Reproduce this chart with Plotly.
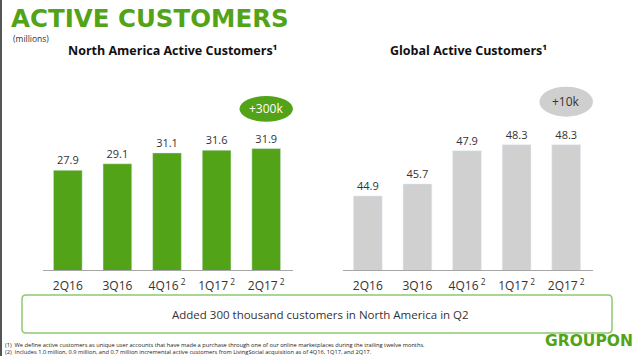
import plotly.graph_objects as go

categories = ["2Q16", "3Q16", "4Q16", "1Q17", "2Q17"]
tick_labels = ["2Q16", "3Q16", "4Q16<sup> 2</sup>", "1Q17<sup> 2</sup>", "2Q17<sup> 2</sup>"]
na_values = [27.9, 29.1, 31.1, 31.6, 31.9]
global_values = [44.9, 45.7, 47.9, 48.3, 48.3]
na_change = "+300k"
global_change = "+10k"

GREEN = "#53a318"
GRAY = "#d0d0d0"
TXT = "#333333"

fig = go.Figure()
fig.add_trace(go.Bar(x=categories, y=na_values, marker_color=GREEN,
                     text=[f"{v:.1f}" for v in na_values], textposition="outside",
                     textfont=dict(family="Open Sans", size=11, color=TXT),
                     cliponaxis=False, xaxis="x", yaxis="y", hoverinfo="skip"))
fig.add_trace(go.Bar(x=categories, y=global_values, marker_color=GRAY,
                     text=[f"{v:.1f}" for v in global_values], textposition="outside",
                     textfont=dict(family="Open Sans", size=11, color=TXT),
                     cliponaxis=False, xaxis="x2", yaxis="y2", hoverinfo="skip"))

ydom = [(356 - 270) / 356, (356 - 80) / 356]
xcommon = dict(type="category", categoryorder="array", categoryarray=categories,
               tickvals=categories, ticktext=tick_labels, showline=True, linecolor="#a6a6a6",
               linewidth=1, ticks="", showgrid=False, zeroline=False, ticklabelstandoff=5,
               tickfont=dict(family="Open Sans", size=12, color=TXT), fixedrange=True)
fig.update_layout(
    width=640, height=356, margin=dict(l=0, r=0, t=0, b=0),
    paper_bgcolor="white", plot_bgcolor="white", showlegend=False, bargap=0.42,
    xaxis=dict(domain=[43 / 640, 293 / 640], anchor="y", **xcommon),
    yaxis=dict(domain=ydom, range=[9.5, 44.55], visible=False, anchor="x", fixedrange=True),
    xaxis2=dict(domain=[343 / 640, 593 / 640], anchor="y2", **xcommon),
    yaxis2=dict(domain=ydom, range=[40, 52.58], visible=False, anchor="x2", fixedrange=True),
)

shapes = []
# left edge dark line
shapes.append(dict(type="rect", xref="paper", yref="paper", x0=0, x1=2 / 640, y0=0, y1=1,
                   fillcolor="#555555", line_width=0))
# ovals
shapes.append(dict(type="circle", xref="x", yref="paper", x0=3.46, x1=4.54,
                   y0=(356 - 121.7) / 356, y1=(356 - 96) / 356, fillcolor=GREEN, line_width=0))
shapes.append(dict(type="circle", xref="x2", yref="paper", x0=3.46, x1=4.54,
                   y0=(356 - 116.7) / 356, y1=(356 - 86.7) / 356, fillcolor="#cfcfcf", line_width=0))
# rounded box
x0, x1 = 22 / 640, 612 / 640
y0, y1 = (356 - 333) / 356, (356 - 295) / 356
rx, ry = 4 / 640, 4 / 356
path = (f"M {x0+rx},{y1} L {x1-rx},{y1} Q {x1},{y1} {x1},{y1-ry} L {x1},{y0+ry} "
        f"Q {x1},{y0} {x1-rx},{y0} L {x0+rx},{y0} Q {x0},{y0} {x0},{y0+ry} "
        f"L {x0},{y1-ry} Q {x0},{y1} {x0+rx},{y1} Z")
shapes.append(dict(type="path", xref="paper", yref="paper", path=path,
                   line=dict(color="#8dc971", width=1.5), fillcolor="rgba(0,0,0,0)"))
fig.update_layout(shapes=shapes)

def py(y):
    return (356 - y) / 356

anns = [
    dict(text="ACTIVE CUSTOMERS", x=9 / 640, y=py(18), xanchor="left", yanchor="middle",
         font=dict(family="DejaVu Sans", size=24.5, color=GREEN, weight=800)),
    dict(text="(millions)", x=11 / 640, y=py(38), xanchor="left", yanchor="middle",
         font=dict(family="Open Sans", size=8.5, color=TXT)),
    dict(text="<b>North America Active Customers¹</b>", x=172 / 640, y=py(50), xanchor="center",
         yanchor="middle", font=dict(family="Open Sans", size=12.5, color="#111111")),
    dict(text="<b>Global Active Customers¹</b>", x=468 / 640, y=py(50), xanchor="center",
         yanchor="middle", font=dict(family="Open Sans", size=12.5, color="#111111")),
    dict(text=na_change, xref="x", x=categories[4], y=py(108.5), yanchor="middle",
         font=dict(family="Open Sans", size=12, color="white")),
    dict(text=global_change, xref="x2", x=categories[4], y=py(101.5), yanchor="middle",
         font=dict(family="Open Sans", size=12, color=TXT)),
    dict(text="Added 300 thousand customers in North America in Q2", x=320 / 640, y=py(314),
         xanchor="center", yanchor="middle",
         font=dict(family="Open Sans", size=11.5, color=TXT)),
    dict(text="GROUPON", x=543 / 640, y=py(341), xanchor="left", yanchor="middle",
         font=dict(family="DejaVu Sans", size=15.5, color=GREEN, weight=800)),
    dict(text="(1)  We define active customers as unique user accounts that have made a purchase through one of our online marketplaces during the trailing twelve months.",
         x=3 / 640, y=py(345), xanchor="left", yanchor="middle",
         font=dict(family="Open Sans", size=5.7, color="#222222")),
    dict(text="(2)  Includes 1.0 million, 0.9 million, and 0.7 million incremental active customers from LivingSocial acquisition as of 4Q16, 1Q17, and 2Q17.",
         x=3 / 640, y=py(352), xanchor="left", yanchor="middle",
         font=dict(family="Open Sans", size=5.7, color="#222222")),
]
for a in anns:
    a.setdefault("xref", "paper")
    a.setdefault("yref", "paper")
    a["showarrow"] = False
fig.update_layout(annotations=anns)

fig.write_html("out.html", config={"displayModeBar": False, "staticPlot": False},
               post_script="document.body.style.margin='0';document.body.style.overflow='hidden';")
